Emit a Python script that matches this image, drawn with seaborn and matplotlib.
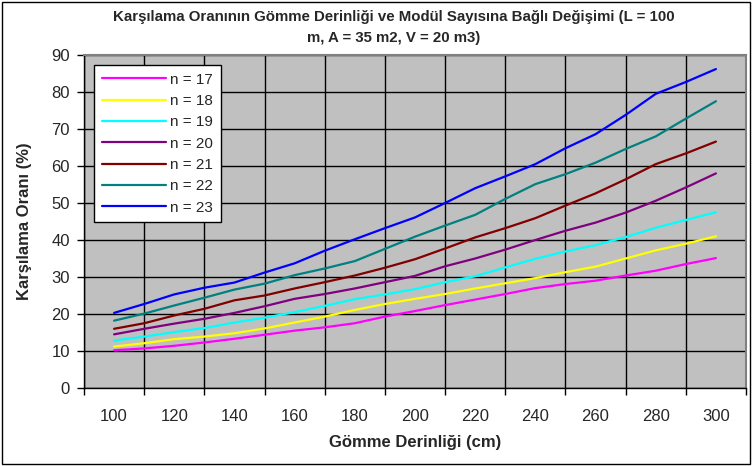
"""Karşılama oranı - gömme derinliği grafiği"""
import pandas as pd
import matplotlib
matplotlib.use("Agg")
from matplotlib import pyplot as plt
from matplotlib.ticker import MultipleLocator, FixedLocator
import seaborn as sns

# --------------
# Data
# --------------
depth = [100, 110, 120, 130, 140, 150, 160, 170, 180, 190, 200,
         210, 220, 230, 240, 250, 260, 270, 280, 290, 300]

n17 = [10.2, 10.7, 11.4, 12.3, 13.3, 14.4, 15.5, 16.4, 17.5, 19.3, 20.8,
       22.4, 23.9, 25.4, 27.0, 28.1, 29.0, 30.4, 31.7, 33.5, 35.1]
n18 = [11.2, 12.1, 13.2, 13.9, 14.8, 16.1, 17.7, 19.3, 21.1, 22.7, 24.1,
       25.4, 26.9, 28.3, 29.7, 31.3, 32.8, 35.0, 37.2, 39.0, 41.0]
n19 = [12.8, 13.9, 15.1, 16.2, 17.7, 19.0, 20.5, 22.2, 24.0, 25.3, 26.7,
       28.6, 30.2, 32.6, 34.9, 36.9, 38.6, 40.8, 43.3, 45.4, 47.5]
n20 = [14.5, 16.0, 17.4, 18.7, 20.3, 22.1, 24.1, 25.4, 26.9, 28.6, 30.3,
       32.9, 35.0, 37.4, 40.0, 42.5, 44.7, 47.4, 50.6, 54.2, 58.0]
n21 = [16.0, 17.5, 19.6, 21.4, 23.7, 25.0, 26.9, 28.6, 30.4, 32.5, 34.8,
       37.7, 40.7, 43.2, 45.9, 49.3, 52.6, 56.4, 60.5, 63.4, 66.6]
n22 = [18.2, 20.1, 22.3, 24.4, 26.6, 28.2, 30.5, 32.3, 34.3, 37.6, 40.9,
       43.9, 46.8, 51.1, 55.1, 57.8, 60.9, 64.6, 68.0, 72.8, 77.5]
n23 = [20.3, 22.7, 25.3, 27.1, 28.5, 31.2, 33.7, 37.1, 40.2, 43.2, 46.1,
       50.0, 54.0, 57.2, 60.5, 64.8, 68.6, 73.8, 79.5, 82.7, 86.2]

series_labels = ["n = 17", "n = 18", "n = 19", "n = 20", "n = 21", "n = 22", "n = 23"]
series_values = [n17, n18, n19, n20, n21, n22, n23]
series_colors = ["#FF00FF", "#FFFF00", "#00FFFF", "#800080", "#800000", "#008080", "#0000FF"]

x_labels = [100, 120, 140, 160, 180, 200, 220, 240, 260, 280, 300]

df = pd.concat(
    [pd.DataFrame({"depth": depth, "ratio": vals, "n": lab})
     for lab, vals in zip(series_labels, series_values)],
    ignore_index=True,
)

# --------------
# Plot
# --------------
sns.set_style("white")
plt.rcParams["font.family"] = ["Liberation Sans", "DejaVu Sans"]

fig = plt.figure(figsize=(7.52, 4.66), dpi=100)
ax = fig.add_axes([84 / 752, 1 - 388 / 466, 662 / 752, 333 / 466])
ax.set_facecolor("#C0C0C0")

sns.lineplot(data=df, x="depth", y="ratio", hue="n",
             palette=dict(zip(series_labels, series_colors)),
             linewidth=1.6, ax=ax, zorder=3)

ax.set_xlim(90, 310)
ax.set_ylim(0, 90)

# y axis
ax.yaxis.set_major_locator(MultipleLocator(10))
ax.tick_params(axis="y", which="major", direction="out", length=5, width=1,
               color="black", labelsize=12, pad=5, left=True)

# x axis: tick marks at category borders, labels in the middle
ax.xaxis.set_major_locator(FixedLocator(list(range(90, 311, 20))))
ax.xaxis.set_minor_locator(FixedLocator(x_labels))
ax.set_xticklabels([], minor=False)
ax.set_xticklabels([str(v) for v in x_labels], minor=True)
ax.tick_params(axis="x", which="major", direction="out", length=5, width=1,
               color="black", bottom=True)
ax.tick_params(axis="x", which="minor", length=0, labelsize=12, pad=15)

ax.grid(True, which="major", color="black", linewidth=1.0, zorder=1)
ax.set_axisbelow(True)
for side in ["top", "right"]:
    ax.spines[side].set_color("#808080")
    ax.spines[side].set_linewidth(1.5)
for side in ["left", "bottom"]:
    ax.spines[side].set_color("black")
    ax.spines[side].set_linewidth(1.0)

ax.set_xlabel("Gömme Derinliği (cm)", fontsize=12, fontweight="bold", labelpad=8)
ax.set_ylabel("Karşılama Oranı (%)", fontsize=12, fontweight="bold", labelpad=14)

leg = ax.legend(loc="upper left", bbox_to_anchor=(0.015, 0.97), frameon=True,
                fancybox=False, edgecolor="black", facecolor="white",
                fontsize=11, handlelength=4.2, handletextpad=0.3,
                labelspacing=0.48, borderpad=0.5, borderaxespad=0)
leg.get_frame().set_linewidth(1.0)
leg.get_frame().set_alpha(1)

fig.text(394 / 752, 1 - 17 / 466,
         "Karşılama Oranının Gömme Derinliği ve Modül Sayısına Bağlı Değişimi (L = 100",
         ha="center", va="center", fontsize=10.8, fontweight="bold")
fig.text(394 / 752, 1 - 38 / 466, "m, A = 35 m2, V = 20 m3)",
         ha="center", va="center", fontsize=10.8, fontweight="bold")

# outer chart border
fig.patches.append(plt.Rectangle((0.002, 0.004), 0.995, 0.992, transform=fig.transFigure,
                                 fill=False, edgecolor="black", linewidth=1.0))

fig.savefig("out.png", dpi=100)
